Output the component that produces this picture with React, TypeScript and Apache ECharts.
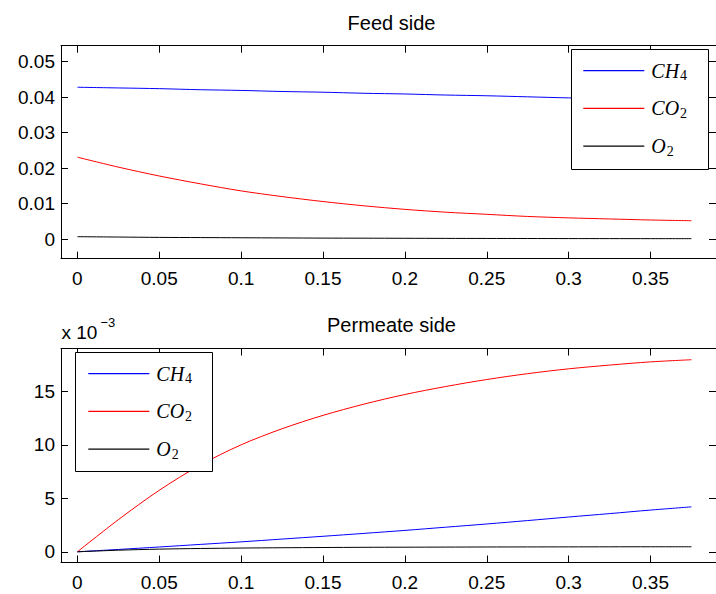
import React, { useEffect, useRef } from "react";
import * as echarts from "echarts";

// Axial position (shared by both panels)
const positions = [0, 0.025, 0.05, 0.075, 0.1, 0.125, 0.15, 0.175, 0.2, 0.225, 0.25, 0.275, 0.3, 0.325, 0.35, 0.375];

// Feed side mole fractions
const feedCH4 = [0.0428, 0.0426, 0.0424, 0.0421, 0.0419, 0.0416, 0.0414, 0.0411, 0.0409, 0.0406, 0.0404, 0.0401, 0.0398, 0.0396, 0.0393, 0.0391];
const feedCO2 = [0.0231, 0.0203, 0.0178, 0.0156, 0.0136, 0.012, 0.0106, 0.0094, 0.0084, 0.0076, 0.007, 0.0064, 0.006, 0.0057, 0.0054, 0.0052];
const feedO2 = [0.0007, 0.0006, 0.0005, 0.00045, 0.0004, 0.00035, 0.0003, 0.00028, 0.00025, 0.00022, 0.0002, 0.00019, 0.00017, 0.00016, 0.00015, 0.00015];

// Permeate side values, in units of 1e-3
const permCH4 = [0, 0.22, 0.45, 0.69, 0.93, 1.19, 1.45, 1.72, 2.0, 2.3, 2.6, 2.92, 3.25, 3.57, 3.9, 4.2];
const permCO2 = [0, 3.0, 5.75, 8.1, 10.0, 11.5, 12.75, 13.8, 14.7, 15.45, 16.1, 16.65, 17.1, 17.45, 17.75, 17.95];
const permO2 = [0, 0.15, 0.25, 0.31, 0.35, 0.38, 0.4, 0.42, 0.43, 0.44, 0.45, 0.455, 0.46, 0.465, 0.47, 0.47];

// Tick labels
const xTicks = [0, 0.05, 0.1, 0.15, 0.2, 0.25, 0.3, 0.35];
const feedTicks = [0, 0.01, 0.02, 0.03, 0.04, 0.05];
const permTicks = [0, 5, 10, 15];

// Legend names: [main, subscript]
const species = ["CH4", "CO2", "O2"];
const speciesParts: [string, string][] = [["CH", "4"], ["CO", "2"], ["O", "2"]];
const colors = ["#0000ff", "#ff0000", "#000000"];
const titles = ["Feed side", "Permeate side"];

const SANS = "'Liberation Sans', Arial, Helvetica, sans-serif";
const SERIF = "'Liberation Serif', 'DejaVu Serif', serif";

const pair = (ys: number[]) => positions.map((x, i) => [x, ys[i]]);

function xAxisPair(gridIndex: number) {
  const base = {
    gridIndex,
    type: "value",
    min: -0.01,
    max: 0.39,
    splitLine: { show: false },
    axisLine: { show: true, onZero: false, lineStyle: { color: "#000", width: 1 } },
    axisTick: { show: true, inside: true, length: 7, customValues: xTicks, lineStyle: { color: "#000", width: 1 } },
  };
  return [
    {
      ...base,
      position: "bottom",
      axisLabel: {
        show: true,
        customValues: xTicks,
        margin: 10,
        fontFamily: SANS,
        fontSize: 19,
        color: "#000",
        formatter: (v: number) => String(v),
      },
    },
    { ...base, position: "top", axisLabel: { show: false } },
  ];
}

function yAxisPair(gridIndex: number, min: number, max: number, ticks: number[]) {
  const base = {
    gridIndex,
    type: "value",
    min,
    max,
    splitLine: { show: false },
    axisLine: { show: true, onZero: false, lineStyle: { color: "#000", width: 1 } },
    axisTick: { show: true, inside: true, length: 7, customValues: ticks, lineStyle: { color: "#000", width: 1 } },
  };
  return [
    {
      ...base,
      position: "left",
      axisLabel: {
        show: true,
        customValues: ticks,
        margin: 6,
        fontFamily: SANS,
        fontSize: 19,
        color: "#000",
        formatter: (v: number) => String(v),
      },
    },
    { ...base, position: "right", axisLabel: { show: false } },
  ];
}

function lineSeries(idx: number, data: number[][], axisIndex: number) {
  return {
    type: "line",
    name: species[idx],
    data,
    xAxisIndex: axisIndex,
    yAxisIndex: axisIndex,
    symbol: "none",
    showSymbol: false,
    smooth: 0.3,
    lineStyle: { color: colors[idx], width: 1 },
    itemStyle: { color: colors[idx] },
    z: 2,
  };
}

function legendAt(left: number, top: number) {
  return {
    orient: "vertical",
    left,
    top,
    padding: 0,
    itemWidth: 61,
    itemHeight: 24,
    itemGap: 15.7,
    selectedMode: false,
    data: species,
    itemStyle: { opacity: 0, borderWidth: 0 },
    lineStyle: { width: 1.2 },
    formatter: (name: string) => {
      const p = speciesParts[species.indexOf(name)];
      return `{m|${p[0]}}{s|${p[1]}}`;
    },
    textStyle: {
      color: "#000",
      padding: [0, 0, 0, 2],
      rich: {
        m: { fontFamily: SERIF, fontStyle: "italic", fontSize: 20, color: "#000" },
        s: { fontFamily: SERIF, fontSize: 14, color: "#000", padding: [10, 0, 0, 1] },
      },
    },
    z: 5,
  };
}

export default function App() {
  const ref = useRef<HTMLDivElement>(null);

  useEffect(() => {
    if (!ref.current) return;
    const chart = echarts.init(ref.current, null, { renderer: "svg" });
    const option = {
      animation: false,
      backgroundColor: "#ffffff",
      title: [
        {
          text: titles[0],
          left: 391.5,
          top: 12.5,
          textAlign: "center",
          padding: 0,
          textStyle: { fontFamily: SANS, fontSize: 20, fontWeight: "normal", color: "#000" },
        },
        {
          text: titles[1],
          left: 391.5,
          top: 315,
          textAlign: "center",
          padding: 0,
          textStyle: { fontFamily: SANS, fontSize: 20, fontWeight: "normal", color: "#000" },
        },
      ],
      grid: [
        { left: 61, top: 45.7, width: 661, height: 213 },
        { left: 61, top: 348.5, width: 661, height: 214 },
      ],
      xAxis: [...xAxisPair(0), ...xAxisPair(1)],
      yAxis: [...yAxisPair(0, -0.0055, 0.0545, feedTicks), ...yAxisPair(1, -1, 19, permTicks)],
      legend: [legendAt(582.7, 60.7), legendAt(87.7, 363.7)],
      graphic: [
        {
          type: "rect",
          z: 3,
          shape: { x: 571.5, y: 49.5, width: 137, height: 120 },
          style: { fill: "#fff", stroke: "#000", lineWidth: 1 },
        },
        {
          type: "rect",
          z: 3,
          shape: { x: 75.5, y: 352.5, width: 137, height: 119 },
          style: { fill: "#fff", stroke: "#000", lineWidth: 1 },
        },
        {
          type: "text",
          z: 5,
          x: 61.5,
          y: 332.7,
          style: { text: "x 10", font: `19px ${SANS}`, fill: "#000", verticalAlign: "middle", align: "left" },
        },
        {
          type: "text",
          z: 5,
          x: 100.5,
          y: 322,
          style: { text: "−3", font: `13px ${SANS}`, fill: "#000", verticalAlign: "middle", align: "left" },
        },
      ],
      series: [
        lineSeries(0, pair(feedCH4), 0),
        lineSeries(1, pair(feedCO2), 0),
        lineSeries(2, pair(feedO2), 0),
        lineSeries(0, pair(permCH4), 2),
        lineSeries(1, pair(permCO2), 2),
        lineSeries(2, pair(permO2), 2),
      ],
    };
    chart.setOption(option as any);
    return () => chart.dispose();
  }, []);

  return (
    <div
      ref={ref}
      style={{ position: "absolute", left: 0, top: 0, width: 716, height: 594, background: "#fff" }}
    />
  );
}
